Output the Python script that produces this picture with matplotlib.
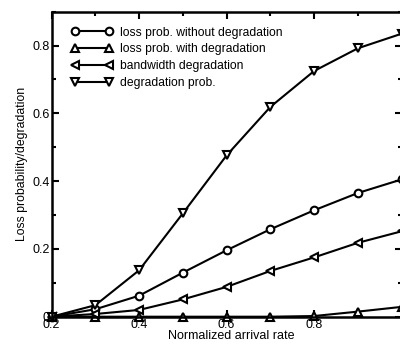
import matplotlib
matplotlib.use("Agg")
import matplotlib.pyplot as plt
from matplotlib.ticker import MultipleLocator

plt.rcParams['font.family'] = ['Liberation Sans', 'DejaVu Sans']

rate = [0.2, 0.3, 0.4, 0.5, 0.6, 0.7, 0.8, 0.9, 1.0]
loss_without = [0.0, 0.022, 0.062, 0.130, 0.196, 0.258, 0.314, 0.365, 0.405]
loss_with = [0.0, 0.0, 0.0, 0.0, 0.0, 0.0, 0.002, 0.015, 0.029]
bw_degradation = [0.0, 0.008, 0.020, 0.051, 0.088, 0.135, 0.175, 0.218, 0.252]
degradation_prob = [0.0, 0.034, 0.137, 0.305, 0.476, 0.619, 0.725, 0.792, 0.835]

labels = ["loss prob. without degradation", "loss prob. with degradation",
          "bandwidth degradation", "degradation prob."]

fig = plt.figure(figsize=(4.0, 3.47), dpi=100)
ax = fig.add_axes([0.129, 0.0873, 0.875, 0.879])

style = dict(color='black', lw=1.5, ms=5.5, mew=1.5, mfc='white', mec='black',
             clip_on=False)
ax.plot(rate, loss_without, marker='o', label=labels[0], **style)
ax.plot(rate, loss_with, marker='^', label=labels[1], **style)
ax.plot(rate, bw_degradation, marker='<', label=labels[2], **style)
ax.plot(rate, degradation_prob, marker='v', label=labels[3], **style)

ax.set_xlim(0.2, 1.0)
ax.set_ylim(0, 0.9)
ax.xaxis.set_minor_locator(MultipleLocator(0.1))
ax.yaxis.set_minor_locator(MultipleLocator(0.1))
ax.set_xticks([0.2, 0.4, 0.6, 0.8])
ax.set_xticklabels(['0.2', '0.4', '0.6', '0.8'])
ax.set_yticks([0, 0.2, 0.4, 0.6, 0.8])
ax.set_yticklabels(['0', '0.2', '0.4', '0.6', '0.8'])

ax.tick_params(which='both', direction='in', top=True, right=True,
               labelsize=9, width=1.5, pad=1.5)
ax.tick_params(which='major', length=5)
ax.tick_params(which='minor', length=3)
for s in ax.spines.values():
    s.set_linewidth(1.8)

ax.set_xlabel('Normalized arrival rate', fontsize=9, labelpad=0)
ax.xaxis.set_label_coords(0.514, -0.045, transform=ax.transAxes)
ax.xaxis.label.set_verticalalignment('top')
ax.set_ylabel('Loss probability/degradation', fontsize=8.8, labelpad=3)

ax.legend(loc='upper left', bbox_to_anchor=(0.035, 0.975), frameon=False,
          fontsize=8.75, numpoints=2, handlelength=3.4, handletextpad=0.65,
          labelspacing=0.4, borderaxespad=0.2)

fig.savefig('out.png', dpi=100)
